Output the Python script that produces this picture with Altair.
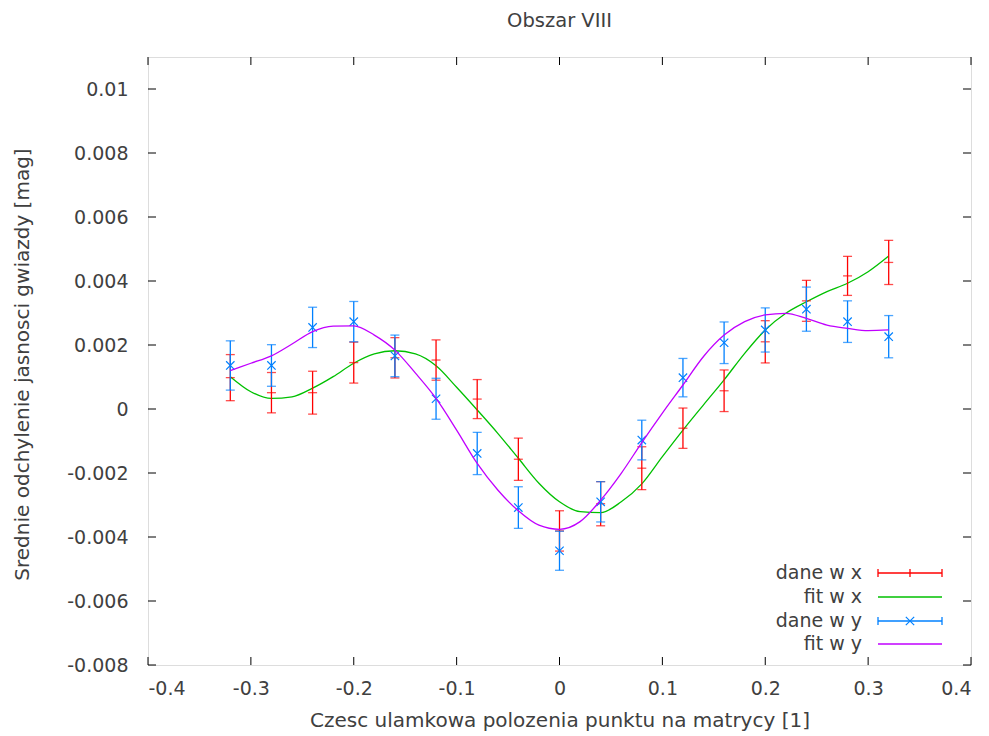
import altair as alt
import pandas as pd

# ---- data ----
xs = [-0.32, -0.28, -0.24, -0.20, -0.16, -0.12, -0.08, -0.04, 0.0,
      0.04, 0.08, 0.12, 0.16, 0.20, 0.24, 0.28, 0.32]
dane_x = [0.00098, 0.00051, 0.00051, 0.00145, 0.00160, 0.00153, 0.00031, -0.00157, -0.00381,
          -0.00296, -0.00185, -0.00060, 0.00057, 0.00210, 0.00338, 0.00416, 0.00458]
err_x = [0.00072, 0.00063, 0.00067, 0.00064, 0.00063, 0.00063, 0.00061, 0.00066, 0.00063,
         0.00069, 0.00067, 0.00063, 0.00065, 0.00066, 0.00064, 0.00061, 0.00069]
dane_y = [0.00136, 0.00136, 0.00255, 0.00273, 0.00166, 0.00032, -0.00139, -0.00308, -0.00443,
          -0.00290, -0.00097, 0.00098, 0.00207, 0.00247, 0.00312, 0.00273, 0.00226]
err_y = [0.00077, 0.00065, 0.00063, 0.00063, 0.00065, 0.00064, 0.00066, 0.00065, 0.00061,
         0.00063, 0.00062, 0.00060, 0.00065, 0.00069, 0.00069, 0.00065, 0.00066]

fit_xs = [-0.32, -0.30, -0.28, -0.26, -0.24, -0.22, -0.20, -0.18, -0.16, -0.14, -0.12,
          -0.10, -0.08, -0.06, -0.04, -0.02, 0.0, 0.02, 0.04, 0.06, 0.08, 0.10,
          0.12, 0.14, 0.16, 0.18, 0.20, 0.22, 0.24, 0.26, 0.28, 0.30, 0.32]
fit_x = [0.00101, 0.00054, 0.00033, 0.00038, 0.00065, 0.00101, 0.00143, 0.00172, 0.00182,
         0.00172, 0.00135, 0.00068, -0.00003, -0.00076, -0.00154, -0.00232, -0.00290,
         -0.00321, -0.00324, -0.00290, -0.00234, -0.00149, -0.00066, 0.00013, 0.00091,
         0.00174, 0.00247, 0.00299, 0.00335, 0.00367, 0.00393, 0.00429, 0.00478]
fit_y = [0.00120, 0.00143, 0.00166, 0.00203, 0.00242, 0.00259, 0.00260, 0.00231, 0.00184,
         0.00112, 0.00033, -0.00066, -0.00170, -0.00253, -0.00318, -0.00363, -0.00376,
         -0.00352, -0.00285, -0.00201, -0.00105, -0.00013, 0.00075, 0.00164, 0.00231,
         0.00273, 0.00294, 0.00299, 0.00283, 0.00262, 0.00252, 0.00245, 0.00247]

x_ticks = [-0.4, -0.3, -0.2, -0.1, 0.0, 0.1, 0.2, 0.3, 0.4]
y_ticks = [-0.008, -0.006, -0.004, -0.002, 0.0, 0.002, 0.004, 0.006, 0.008, 0.01]

legend_labels = ["dane w x", "fit w x", "dane w y", "fit w y"]

# ---- style ----
RED, GREEN, BLUE, MAG = "#ff0000", "#00c000", "#0080ff", "#c000ff"
FONT = "DejaVu Sans"
TXT = "#404040"
W, H = 823, 608
CROSS = "M-1,-1L1,1M-1,1L1,-1"

dx = pd.DataFrame({"x": xs, "y": dane_x, "lo": [a - b for a, b in zip(dane_x, err_x)],
                   "hi": [a + b for a, b in zip(dane_x, err_x)]})
dy = pd.DataFrame({"x": xs, "y": dane_y, "lo": [a - b for a, b in zip(dane_y, err_y)],
                   "hi": [a + b for a, b in zip(dane_y, err_y)]})
fx = pd.DataFrame({"x": fit_xs, "y": fit_x})
fy = pd.DataFrame({"x": fit_xs, "y": fit_y})
xt = pd.DataFrame({"t": x_ticks})
yt = pd.DataFrame({"t": y_ticks})
one = pd.DataFrame({"k": [0]})

xscale = alt.Scale(domain=[-0.4, 0.4], nice=False, zero=False)
yscale = alt.Scale(domain=[-0.008, 0.011], nice=False, zero=False)

X = alt.X("x:Q", scale=xscale, axis=alt.Axis(
    values=x_ticks, labelExpr="'' + datum.value", ticks=False, domain=False, grid=False,
    labelFontSize=19, labelFont=FONT, labelColor=TXT, labelPadding=14,
    title="Czesc ulamkowa polozenia punktu na matrycy [1]", titleFontSize=20,
    titleFont=FONT, titleColor=TXT, titleFontWeight="normal",
    titleX=W / 2, titleY=55, titleBaseline="middle", titleAlign="center"))
Y = alt.Y("y:Q", scale=yscale, axis=alt.Axis(
    values=y_ticks, labelExpr="'' + datum.value", ticks=False, domain=False, grid=False,
    labelFontSize=19, labelFont=FONT, labelColor=TXT, labelPadding=20,
    title="Srednie odchylenie jasnosci gwiazdy [mag]", titleFontSize=20,
    titleFont=FONT, titleColor=TXT, titleFontWeight="normal",
    titleX=-126, titleY=307, titleAngle=-90, titleBaseline="middle", titleAlign="center"))


def errbars(df, color):
    base = alt.Chart(df)
    rule = base.mark_rule(color=color, strokeWidth=1.3).encode(
        x=alt.X("x:Q", scale=xscale), y=alt.Y("lo:Q", scale=yscale), y2="hi:Q")
    cap_lo = base.mark_tick(color=color, orient="horizontal", size=9, thickness=1.3).encode(
        x=alt.X("x:Q", scale=xscale), y=alt.Y("lo:Q", scale=yscale))
    cap_hi = base.mark_tick(color=color, orient="horizontal", size=9, thickness=1.3).encode(
        x=alt.X("x:Q", scale=xscale), y=alt.Y("hi:Q", scale=yscale))
    return [rule, cap_lo, cap_hi]


red_layers = errbars(dx, RED)
red_center = alt.Chart(dx).mark_tick(color=RED, orient="horizontal", size=9, thickness=1.3).encode(
    x=alt.X("x:Q", scale=xscale), y=alt.Y("y:Q", scale=yscale))
blue_layers = errbars(dy, BLUE)
blue_center = alt.Chart(dy).mark_point(
    shape=CROSS, size=70, filled=False, color=BLUE, strokeWidth=1.2, opacity=1
).encode(x=alt.X("x:Q", scale=xscale), y=alt.Y("y:Q", scale=yscale))

green_line = alt.Chart(fx).mark_line(color=GREEN, strokeWidth=1.3, interpolate="monotone").encode(
    x=X, y=Y)
mag_line = alt.Chart(fy).mark_line(color=MAG, strokeWidth=1.3, interpolate="monotone").encode(
    x=alt.X("x:Q", scale=xscale), y=alt.Y("y:Q", scale=yscale))

# inward tick marks on all four sides
tk = dict(color="black", strokeWidth=1)
xt_bottom = alt.Chart(xt).mark_rule(**tk).encode(
    x=alt.X("t:Q", scale=xscale), y=alt.value(H), y2=alt.value(H - 8))
xt_top = alt.Chart(xt).mark_rule(**tk).encode(
    x=alt.X("t:Q", scale=xscale), y=alt.value(0), y2=alt.value(8))
yt_left = alt.Chart(yt).mark_rule(**tk).encode(
    y=alt.Y("t:Q", scale=yscale), x=alt.value(0), x2=alt.value(8))
yt_right = alt.Chart(yt).mark_rule(**tk).encode(
    y=alt.Y("t:Q", scale=yscale), x=alt.value(W - 8), x2=alt.value(W))

# legend (inside bottom right)
rows = [516, 540, 564, 587]
LX_TXT, LX0, LX1 = 714, 730, 794
LXM = (LX0 + LX1) / 2
legend = []
for lab, yy, col in zip(legend_labels, rows, [RED, GREEN, BLUE, MAG]):
    legend.append(alt.Chart(one).mark_text(
        align="right", baseline="middle", font=FONT, fontSize=19, color=TXT).encode(
        x=alt.value(LX_TXT), y=alt.value(yy), text=alt.value(lab)))
    legend.append(alt.Chart(one).mark_rule(color=col, strokeWidth=1.3).encode(
        x=alt.value(LX0), x2=alt.value(LX1), y=alt.value(yy)))
    if lab.startswith("dane"):
        for xx in (LX0, LX1):
            legend.append(alt.Chart(one).mark_rule(color=col, strokeWidth=1.3).encode(
                x=alt.value(xx), y=alt.value(yy - 4), y2=alt.value(yy + 4)))
        if lab.endswith("x"):
            legend.append(alt.Chart(one).mark_rule(color=col, strokeWidth=1.3).encode(
                x=alt.value(LXM), y=alt.value(yy - 4), y2=alt.value(yy + 4)))
        else:
            legend.append(alt.Chart(one).mark_point(
                shape=CROSS, size=70, filled=False, color=col,
                strokeWidth=1.2, opacity=1).encode(x=alt.value(LXM), y=alt.value(yy)))

chart = alt.layer(
    green_line,
    *red_layers, red_center,
    *blue_layers, blue_center,
    mag_line,
    xt_bottom, xt_top, yt_left, yt_right,
    *legend,
).properties(
    width=W, height=H,
    title=alt.TitleParams("Obszar VIII", font=FONT, fontSize=19.5, fontWeight="normal",
                          color=TXT, anchor="middle", offset=25),
    autosize=alt.AutoSizeParams(type="none"),
    padding={"left": 140, "top": 49, "right": 10, "bottom": 69},
).configure_view(stroke="black", strokeWidth=1.2).configure(background="white")

chart.save("out.html", embed_options={"renderer": "svg", "actions": False})
